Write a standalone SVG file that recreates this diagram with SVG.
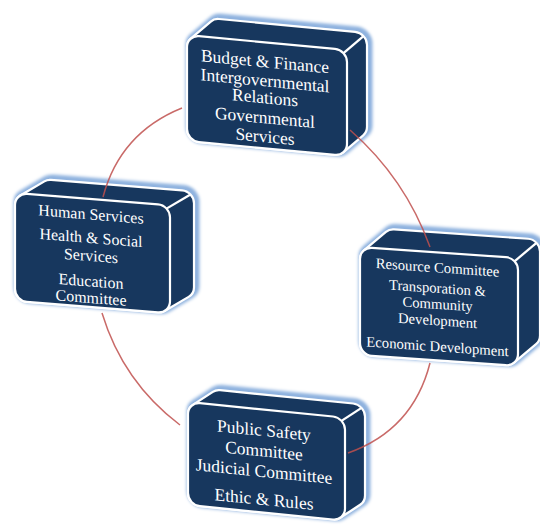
<svg xmlns="http://www.w3.org/2000/svg" width="540" height="527" viewBox="0 0 540 527">
<style>
.sil{fill:#17375e;stroke:#ffffff;stroke-width:2.2;stroke-linejoin:round}
.glow{fill:none;stroke:#8db1de;stroke-width:7;filter:url(#blur)}
.front{fill:#17375e;stroke:#ffffff;stroke-width:2.2}
.edge{stroke:#ffffff;stroke-width:2.2;fill:none}
.lbl{fill:#ffffff;font-family:"Liberation Serif","DejaVu Serif",serif;text-anchor:middle}
.arc{fill:none;stroke:#c0504d;stroke-width:1.5;stroke-opacity:0.85}
</style>
<defs>
<filter id="blur" x="-20%" y="-20%" width="140%" height="140%"><feGaussianBlur stdDeviation="1.6"/></filter>
</defs>
<g id="node-top" transform="translate(187,35) skewY(5.37)">
<path class="glow" transform="translate(2,-2)" d="M0,94 L0,12 A12,12 0 0 1 3.73,3.3 L23.73,-15.7 A12,12 0 0 1 32,-19 L168,-19 A12,12 0 0 1 180,-7 L180,75 A12,12 0 0 1 176.27,83.7 L156.27,102.7 A12,12 0 0 1 148,106 L12,106 A12,12 0 0 1 0,94 Z"/>
<path class="sil" d="M0,94 L0,12 A12,12 0 0 1 3.73,3.3 L23.73,-15.7 A12,12 0 0 1 32,-19 L168,-19 A12,12 0 0 1 180,-7 L180,75 A12,12 0 0 1 176.27,83.7 L156.27,102.7 A12,12 0 0 1 148,106 L12,106 A12,12 0 0 1 0,94 Z"/>
<rect class="front" x="0" y="0" width="160" height="106" rx="12"/>
<line class="edge" x1="156.5" y1="3.5" x2="176.5" y2="-15.5"/>
<g class="lbl" font-size="17.5">
<text x="78" y="25">Budget &amp; Finance</text>
<text x="78" y="44">Intergovernmental</text>
<text x="78" y="61">Relations</text>
<text x="78" y="81">Governmental</text>
<text x="78" y="100">Services</text>
</g>
</g>
<g id="node-left" transform="translate(15,193) skewY(4.57)">
<path class="glow" transform="translate(2,-2)" d="M0,96 L0,12 A12,12 0 0 1 5.34,2.02 L29.34,-13.98 A12,12 0 0 1 36,-16 L167,-16 A12,12 0 0 1 179,-4 L179,80 A12,12 0 0 1 173.66,89.98 L149.66,105.98 A12,12 0 0 1 143,108 L12,108 A12,12 0 0 1 0,96 Z"/>
<path class="sil" d="M0,96 L0,12 A12,12 0 0 1 5.34,2.02 L29.34,-13.98 A12,12 0 0 1 36,-16 L167,-16 A12,12 0 0 1 179,-4 L179,80 A12,12 0 0 1 173.66,89.98 L149.66,105.98 A12,12 0 0 1 143,108 L12,108 A12,12 0 0 1 0,96 Z"/>
<rect class="front" x="0" y="0" width="155" height="108" rx="12"/>
<line class="edge" x1="151.49" y1="3.51" x2="175.49" y2="-12.49"/>
<g class="lbl" font-size="16">
<text x="76" y="20.5">Human Services</text>
<text x="76" y="44">Health &amp; Social</text>
<text x="76" y="62">Services</text>
<text x="76" y="87.5">Education</text>
<text x="76" y="104">Committee</text>
</g>
</g>
<g id="node-right" transform="translate(360,247) skewY(4.0)">
<path class="glow" transform="translate(2,-2)" d="M0,96 L0,12 A12,12 0 0 1 3.93,3.12 L25.93,-16.88 A12,12 0 0 1 34,-20 L168,-20 A12,12 0 0 1 180,-8 L180,76 A12,12 0 0 1 176.07,84.88 L154.07,104.88 A12,12 0 0 1 146,108 L12,108 A12,12 0 0 1 0,96 Z"/>
<path class="sil" d="M0,96 L0,12 A12,12 0 0 1 3.93,3.12 L25.93,-16.88 A12,12 0 0 1 34,-20 L168,-20 A12,12 0 0 1 180,-8 L180,76 A12,12 0 0 1 176.07,84.88 L154.07,104.88 A12,12 0 0 1 146,108 L12,108 A12,12 0 0 1 0,96 Z"/>
<rect class="front" x="0" y="0" width="158" height="108" rx="12"/>
<line class="edge" x1="154.49" y1="3.51" x2="176.49" y2="-16.49"/>
<g class="lbl" font-size="14.7">
<text x="77.5" y="20">Resource Committee</text>
<text x="77.5" y="40.5">Transporation &amp;</text>
<text x="77.5" y="56.5">Community</text>
<text x="77.5" y="73">Development</text>
<text x="77.5" y="99">Economic Development</text>
</g>
</g>
<g id="node-bottom" transform="translate(188,402) skewY(5.71)">
<path class="glow" transform="translate(2,-2)" d="M0,91 L0,12 A12,12 0 0 1 4.8,2.4 L24.8,-12.6 A12,12 0 0 1 32,-15 L165,-15 A12,12 0 0 1 177,-3 L177,76 A12,12 0 0 1 172.2,85.6 L152.2,100.6 A12,12 0 0 1 145,103 L12,103 A12,12 0 0 1 0,91 Z"/>
<path class="sil" d="M0,91 L0,12 A12,12 0 0 1 4.8,2.4 L24.8,-12.6 A12,12 0 0 1 32,-15 L165,-15 A12,12 0 0 1 177,-3 L177,76 A12,12 0 0 1 172.2,85.6 L152.2,100.6 A12,12 0 0 1 145,103 L12,103 A12,12 0 0 1 0,91 Z"/>
<rect class="front" x="0" y="0" width="157" height="103" rx="12"/>
<line class="edge" x1="153.49" y1="3.51" x2="173.49" y2="-11.49"/>
<g class="lbl" font-size="17.5">
<text x="76" y="26.5">Public Safety</text>
<text x="76" y="47">Committee</text>
<text x="76" y="67.5">Judicial Committee</text>
<text x="76" y="95.5">Ethic &amp; Rules</text>
</g>
</g>
<g id="connectors">
<path class="arc" d="M182,108 Q120,133 103,197"/>
<path class="arc" d="M350,130 Q405,178 430,247"/>
<path class="arc" d="M102,313 Q123,382 180,425"/>
<path class="arc" d="M430,363 Q413,430 348,453"/>
</g>
</svg>
